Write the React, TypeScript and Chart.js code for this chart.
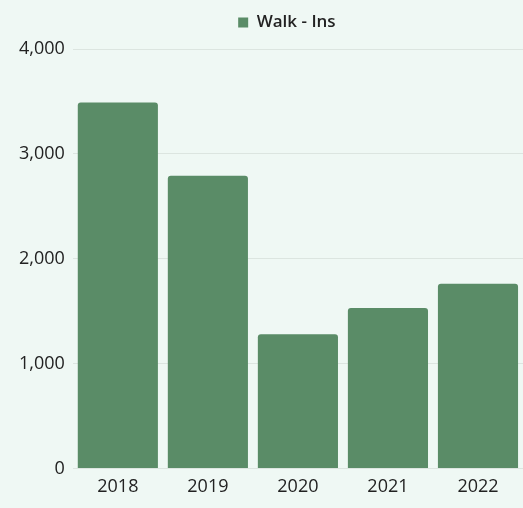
import React, { useEffect, useRef } from "react";
import { Chart, registerables } from "chart.js";

Chart.register(...registerables);

const categories = ["2018", "2019", "2020", "2021", "2022"];
const walkIns = [3490, 2790, 1280, 1530, 1760];
const seriesLabel = "Walk - Ins";
const yMax = 4000;
const yStep = 1000;

const legendGap = {
  id: "legendGap",
  beforeInit(chart: any) {
    const orig = chart.legend.fit;
    chart.legend.fit = function () {
      orig.bind(chart.legend)();
      this.height += 8;
    };
  },
  afterLayout(chart: any) {
    if (chart.legend) chart.legend.right -= 22;
  },
};

export default function App() {
  const ref = useRef<HTMLCanvasElement | null>(null);

  useEffect(() => {
    document.body.style.margin = "0";
    document.body.style.background = "#eff8f4";
    const ctx = ref.current!;
    const chart = new Chart(ctx, {
      type: "bar",
      data: {
        labels: categories,
        datasets: [
          {
            label: seriesLabel,
            data: walkIns,
            backgroundColor: "#5a8c67",
            borderWidth: 0,
            borderRadius: 3,
            borderSkipped: "bottom",
            barPercentage: 0.89,
            categoryPercentage: 1,
          },
        ],
      },
      plugins: [legendGap],
      options: {
        responsive: false,
        animation: false,
        devicePixelRatio: 1,
        layout: { padding: { left: 11, right: 0, top: 5, bottom: 2 } },
        plugins: {
          legend: {
            display: true,
            position: "top",
            fullSize: false,
            labels: {
              boxWidth: 10,
              boxHeight: 10,
              color: "#222",
              font: { family: "'Open Sans'", size: 17, weight: "600" },
              padding: 9,
            },
          },
          tooltip: { enabled: false },
        },
        scales: {
          x: {
            grid: { display: false, drawTicks: false },
            border: { display: false },
            ticks: {
              color: "#222",
              font: { family: "'Open Sans'", size: 18 },
              padding: 8,
            },
          },
          y: {
            min: 0,
            max: yMax,
            ticks: {
              stepSize: yStep,
              color: "#222",
              font: { family: "'Open Sans'", size: 18 },
              padding: 8,
            },
            grid: { color: "#dce5e0", drawTicks: false },
            border: { display: false },
          },
        },
      },
    });
    return () => chart.destroy();
  }, []);

  return (
    <div style={{ width: 523, height: 508, background: "#eff8f4" }}>
      <canvas ref={ref} width={523} height={508} style={{ display: "block" }} />
    </div>
  );
}
